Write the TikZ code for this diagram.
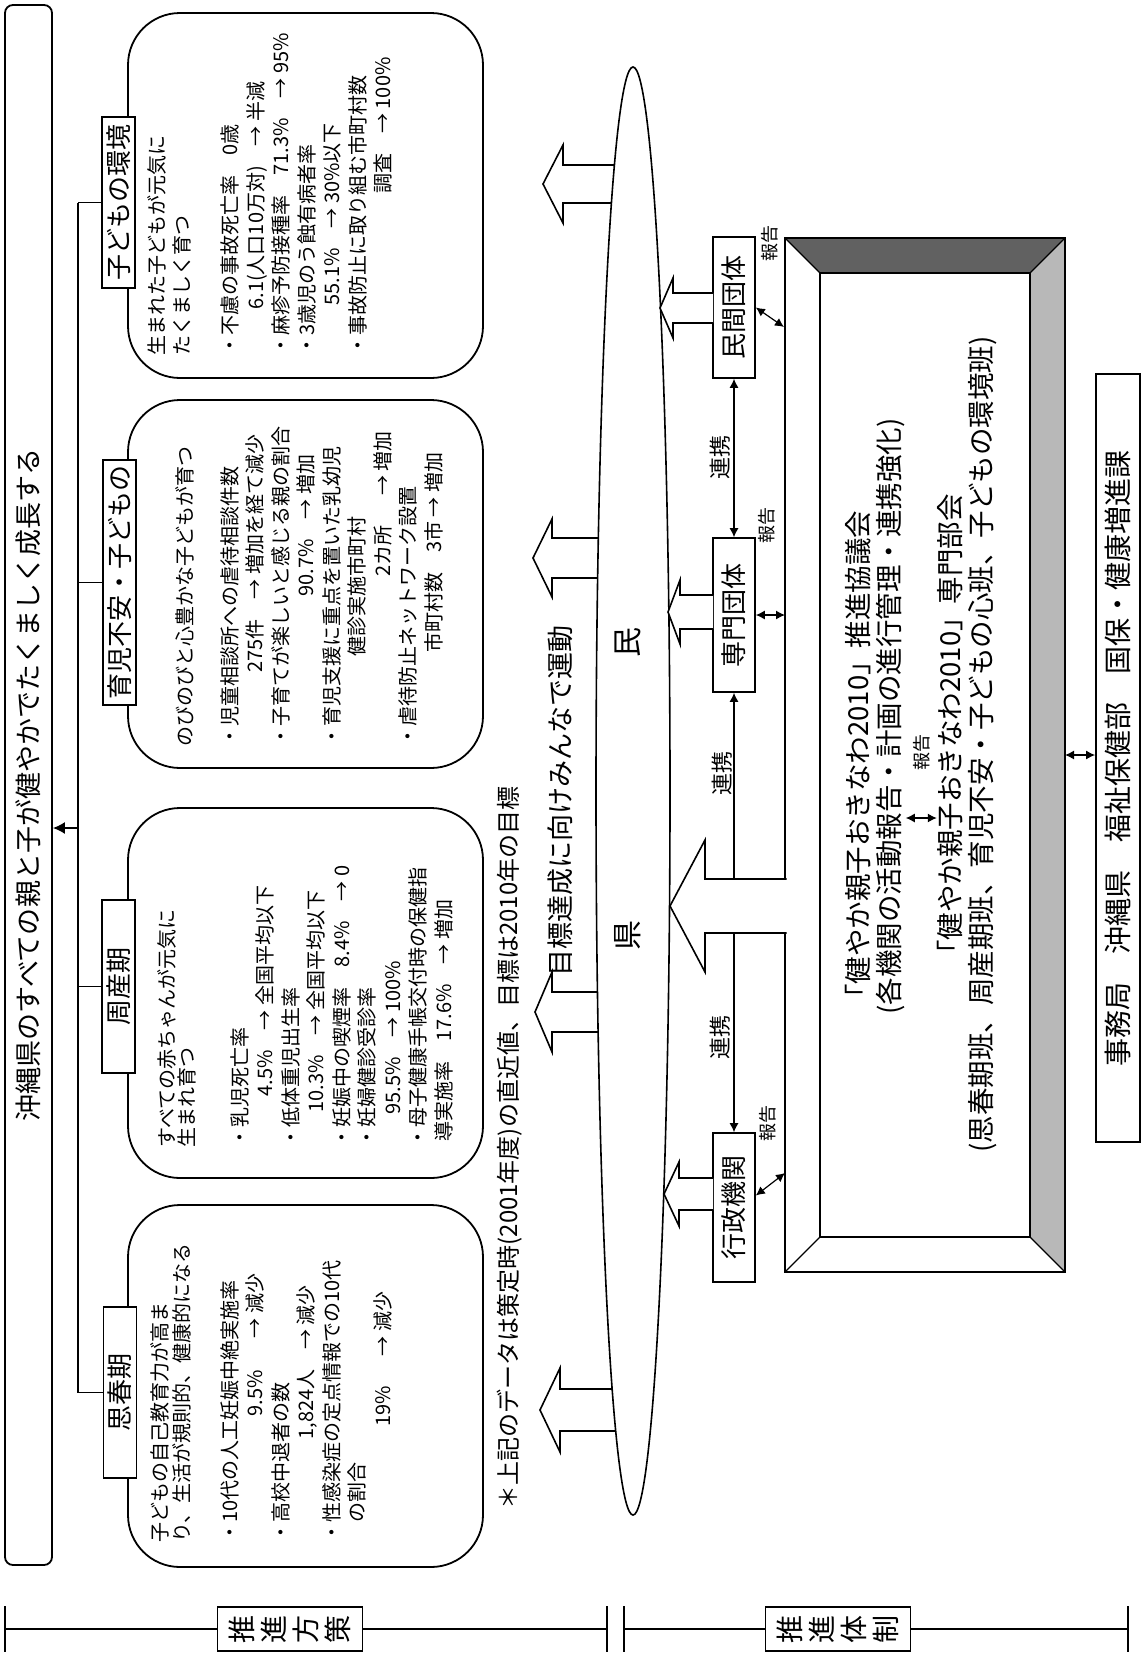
\documentclass[tikz,border=0pt]{standalone}
\usepackage{fontspec}
\setmainfont{Noto Sans CJK JP}
\usetikzlibrary{arrows.meta,calc}

\newcommand{\hollowarrow}[6]{%
  \draw[blockarrow] (#3,#4-#6) -- (#2,#4-#6) -- (#2,#4-#5) -- (#1,#4)
    -- (#2,#4+#5) -- (#2,#4+#6) -- (#3,#4+#6);}

\tikzset{
  vtext/.style={rotate=90, inner sep=0pt},
  goalbox/.style={draw, line width=0.9pt, rounded corners=26pt},
  tagbox/.style={draw, fill=white, line width=0.9pt, rotate=90, inner sep=0pt,
    minimum height=16.5pt, font=\fontsize{13}{13}\selectfont},
  orgbox/.style={draw, fill=white, line width=0.8pt, rotate=90, inner sep=0pt,
    minimum height=21pt, font=\fontsize{13}{13}\selectfont},
  blockarrow/.style={draw, fill=white, line width=0.8pt},
  link/.style={{Latex[length=4.5pt,width=4.5pt]}-{Latex[length=4.5pt,width=4.5pt]}, line width=0.6pt},
  goaltext/.style={vtext, anchor=north west, align=left, font=\fontsize{10}{12.75}\selectfont},
  frametext/.style={vtext, anchor=west, font=\fontsize{13.75}{13.75}\selectfont},
  small/.style={vtext, font=\fontsize{9}{9}\selectfont},
  mid/.style={vtext, font=\fontsize{11}{11}\selectfont},
}

\begin{document}
\begin{tikzpicture}[x=0.5pt, y=-0.5pt]
\useasboundingbox (0,0) rectangle (1141,1654);

\node[draw, line width=0.9pt, rounded corners=4pt, rotate=90, minimum width=780pt, minimum height=23.5pt,
  inner sep=0pt, font=\fontsize{13.5}{13.5}\selectfont] (title) at (28.5,785) {沖縄県のすべての親と子が健やかでたくましく成長する};

\node[goalbox, minimum width=177.5pt, minimum height=182.5pt] (box-env) at (305.5,195.5) {};
\node[goalbox, minimum width=177.5pt, minimum height=184pt] (box-anx) at (305.5,584) {};
\node[goalbox, minimum width=177.5pt, minimum height=185pt] (box-peri) at (305.5,993) {};
\node[goalbox, minimum width=177.5pt, minimum height=181pt] (box-adol) at (305.5,1386) {};

\node[goaltext] (txt-env) at (147,356) {生まれた子どもが元気に\\たくましく育つ\\[11.25pt]
  ・不慮の事故死亡率　0歳\\\hspace*{2.3em}6.1(人口10万対)　→ 半減\\
  ・麻疹予防接種率　71.3\%　→ 95\%\\・3歳児のう蝕有病者率\\\hspace*{2.5em}55.1\%　→ 30\%以下\\
  ・事故防止に取り組む市町村数\\\hspace*{8.1em}調査　→ 100\%};
\node[goaltext] (txt-anx) at (175,747) {のびのびと心豊かな子どもが育つ\\[9.75pt]
  ・児童相談所への虐待相談件数\\\hspace*{3.7em}275件　→ 増加を経て減少\\
  ・子育てが楽しいと感じる親の割合\\\hspace*{7.5em}90.7\%　→ 増加\\
  ・育児支援に重点を置いた乳幼児\\\hspace*{4.5em}健診実施市町村\\\hspace*{8.5em}2カ所\hspace{1.5em}→ 増加\\
  ・虐待防止ネットワーク設置\\\hspace*{4.7em}市町村数\hspace{1em}3市 → 増加};
\node[goaltext] (txt-peri) at (157,1148) {すべての赤ちゃんが元気に\\[-2.75pt]生まれ育つ\\[13.75pt]
  ・乳児死亡率\\\hspace*{2.55em}4.5\%　→ 全国平均以下\\・低体重児出生率\\\hspace*{1.75em}10.3\%　→ 全国平均以下\\
  ・妊娠中の喫煙率　8.4\%　→ 0\\・妊婦健診受診率\\\hspace*{1.65em}95.5\%　→ 100\%\\
  ・母子健康手帳交付時の保健指\\\hspace*{0.3em}導実施率　17.6\%　→ 増加};
\node[goaltext] (txt-adol) at (150,1543) {子どもの自己教育力が高ま\\[-1.75pt]り、生活が規則的、健康的になる\\[11.25pt]
  ・10代の人工妊娠中絶実施率\\\hspace*{6.3em}9.5\%\hspace{1.6em}→ 減少\\
  ・高校中退者の数\\\hspace*{5.15em}1,824人\hspace{1em}→ 減少\\
  ・性感染症の定点情報での10代\\\hspace*{1em}の割合\\\hspace*{5.8em}19\%\hspace{1.5em}→ 減少};

\node[tagbox, minimum width=85.5pt] (tag-env) at (118.5,202.5) {子どもの環境};
\node[tagbox, minimum width=122.5pt] (tag-anx) at (119.5,582.5) {育児不安・子どもの};
\node[tagbox, minimum width=86.5pt] (tag-peri) at (118.5,986.5) {周産期};
\node[tagbox, minimum width=85.5pt] (tag-adol) at (120,1392.5) {思春期};

\coordinate (trunk) at (78,0);
\coordinate (join) at (78,828);
\draw[line width=0.8pt] (tag-env.north -| trunk) -- (tag-adol.north -| trunk);
\foreach \t in {env,anx,peri,adol}
  \draw[line width=0.8pt] (tag-\t.north) -- (tag-\t.north -| trunk);
\draw[line width=0.8pt, -{Latex[length=6pt,width=6pt]}] (join) -- (join -| title.south);

\hollowarrow{543}{563}{630}{184}{39}{19}
\hollowarrow{533}{552}{630}{558}{39}{20}
\hollowarrow{535}{552}{630}{1012}{40}{20}
\hollowarrow{540}{560}{630}{1410}{42}{21}

\draw[fill=white, line width=0.8pt] (633,791) ellipse [x radius=18.5pt, y radius=362pt];
\node[vtext, font=\fontsize{15}{15}\selectfont] (lbl-min) at (628,642) {民};
\node[vtext, font=\fontsize{15}{15}\selectfont] (lbl-ken) at (628,935) {県};
\node[vtext, font=\fontsize{13.5}{13.5}\selectfont] (motto) at (560,801) {目標達成に向けみんなで運動};
\node[vtext, font=\fontsize{12}{12}\selectfont] (note) at (510,1148) {＊上記のデータは策定時(2001年度)の直近値、目標は2010年の目標};

\node[orgbox, minimum width=70.5pt] (org-min) at (734,307.5) {民間団体};
\node[orgbox, minimum width=77pt] (org-sen) at (734,615) {専門団体};
\node[orgbox, minimum width=74.5pt] (org-gyo) at (734,1207.5) {行政機関};

\draw[link] (org-min.west) -- (org-sen.east);
\draw[link] (org-sen.west) -- (org-gyo.east);
\node[mid] (ren-1) at (720,457) {連携};
\node[mid] (ren-2) at (722,773) {連携};
\node[mid] (ren-3) at (720,1037) {連携};

\hollowarrow{660}{673}{713}{308}{30}{15}
\hollowarrow{668}{680}{713}{612}{32}{17}
\hollowarrow{664}{679}{713}{1194}{32}{16}

\coordinate (fo-nw) at (785,238);
\coordinate (fo-ne) at (1065,238);
\coordinate (fo-se) at (1065,1272);
\coordinate (fo-sw) at (785,1272);
\coordinate (fi-nw) at (820,273);
\coordinate (fi-ne) at (1030,273);
\coordinate (fi-se) at (1030,1237);
\coordinate (fi-sw) at (820,1237);
\fill[black!62] (fo-nw) -- (fo-ne) -- (fi-ne) -- (fi-nw) -- cycle;
\fill[black!28] (fo-ne) -- (fo-se) -- (fi-se) -- (fi-ne) -- cycle;
\draw[line width=0.8pt] (fo-nw) rectangle (fo-se);
\draw[line width=0.8pt] (fi-nw) rectangle (fi-se);
\draw[line width=0.6pt] (fo-nw) -- (fi-nw) (fo-ne) -- (fi-ne) (fo-se) -- (fi-se) (fo-sw) -- (fi-sw);

\hollowarrow{670}{705}{786.5}{906}{66}{27}

\coordinate (rep-min) at (784,327);
\coordinate (rep-sen) at (785,615);
\coordinate (rep-gyo) at (785,1173);
\draw[link] (org-min.south) -- (rep-min);
\draw[link] (org-sen.south) -- (rep-sen);
\draw[link] ($(org-gyo.south)+(0,-12)$) -- (rep-gyo);
\node[small] (rep-1) at (770,243) {報告};
\node[small] (rep-2) at (767,525) {報告};
\node[small] (rep-3) at (768,1123) {報告};

\node[frametext] (conf) at (858,1012) {「健やか親子おきなわ2010」推進協議会};
\node[frametext] (conf-role) at (891,1015) {(各機関の活動報告・計画の進行管理・連携強化)};
\node[frametext] (sub) at (950,968) {「健やか親子おきなわ2010」専門部会};
\node[frametext] (sub-team) at (983,1153) {(思春期班、周産期班、育児不安・子どもの心班、子どもの環境班)};
\coordinate (rep-mid) at (0,818);
\draw[link] (rep-mid -| conf-role.south) -- (rep-mid -| sub.north);
\node[small] (rep-4) at (922,752) {報告};

\node[draw, line width=0.9pt, rotate=90, minimum width=384pt, minimum height=22pt, inner sep=0pt,
  font=\fontsize{14}{14}\selectfont] (office) at (1118,758) {事務局　沖縄県　福祉保健部　国保・健康増進課};
\coordinate (rep-east) at (1065,755);
\draw[link] (rep-east) -- (rep-east -| office.north);

\node[draw, fill=white, line width=0.9pt, rotate=90, minimum width=22pt, minimum height=72.5pt, inner sep=0pt,
  align=center, font=\fontsize{14}{16}\selectfont] (plan) at (290,1629) {推\\進\\方\\策};
\node[draw, fill=white, line width=0.9pt, rotate=90, minimum width=22pt, minimum height=72.5pt, inner sep=0pt,
  align=center, font=\fontsize{14}{16}\selectfont] (sys) at (838,1629) {推\\進\\体\\制};
\coordinate (plan-l) at (5,1629);
\coordinate (plan-r) at (607,1629);
\coordinate (sys-l) at (624,1629);
\coordinate (sys-r) at (1128,1629);
\draw[line width=0.8pt] (plan-l) -- (plan.north) (plan.south) -- (plan-r);
\draw[line width=0.8pt] (sys-l) -- (sys.north) (sys.south) -- (sys-r);
\foreach \c in {plan-l,plan-r,sys-l,sys-r}
  \draw[line width=0.8pt] ($(\c)+(0,-23)$) -- ($(\c)+(0,23)$);
\end{tikzpicture}
\end{document}
